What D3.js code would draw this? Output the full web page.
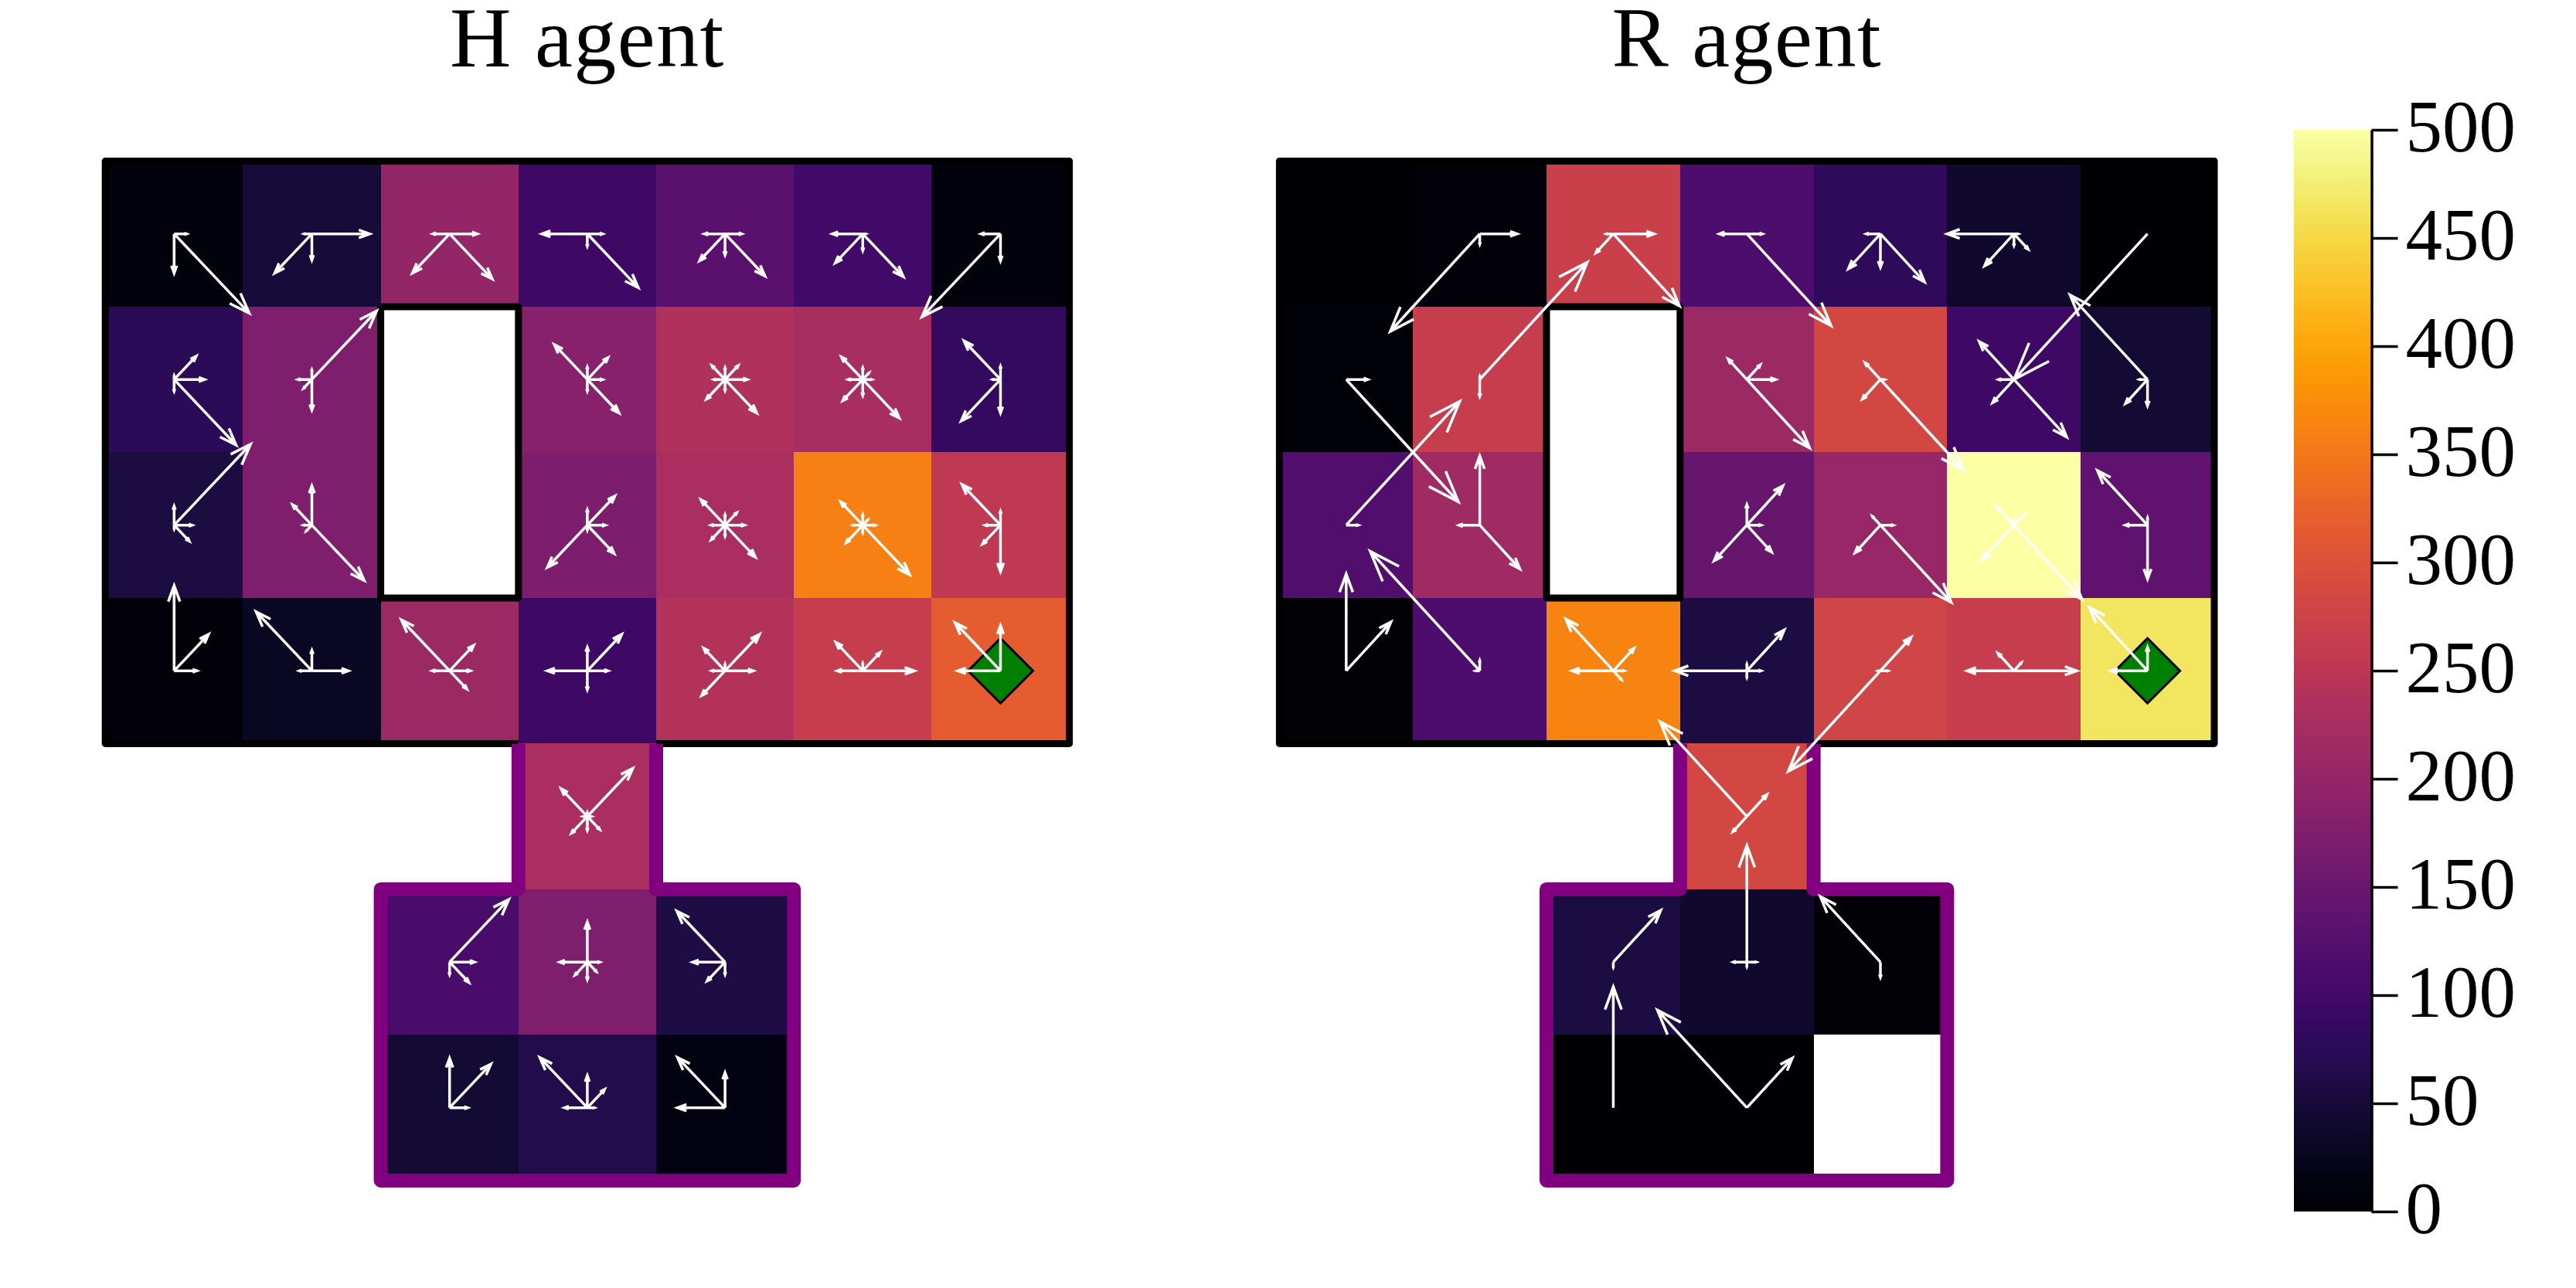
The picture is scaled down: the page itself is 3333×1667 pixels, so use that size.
<!DOCTYPE html>
<meta charset="utf-8">

<head>
  <title>H agent / R agent</title>
</head>

<style>
  body { margin: 0; background: #fff; }
  text { font-family: "Liberation Serif", serif; fill: #000; }
</style>

<body>
  <svg id="chart" width="3333" height="1667"></svg>

  <script src="https://cdnjs.cloudflare.com/ajax/libs/d3/7.8.5/d3.min.js"></script>

  <script>
    // state values, one list per grid row (null = no cell drawn)
    var hValues = [
      [10, 50, 200, 95, 130, 100, 10],
      [75, 175, null, 185, 235, 225, 85],
      [55, 175, null, 170, 230, 360, 255],
      [8, 30, 210, 95, 240, 265, 315],
      [null, null, null, 230, null, null, null],
      [null, null, 110, 175, 60, null, null],
      [null, null, 45, 65, 15, null, null]
    ];
    var rValues = [
      [2, 8, 270, 115, 80, 40, 2],
      [7, 265, null, 210, 285, 95, 45],
      [120, 215, null, 145, 205, 500, 135],
      [5, 115, 365, 55, 280, 265, 465],
      [null, null, null, 285, null, null, null],
      [null, null, 55, 40, 5, null, null],
      [null, null, 2, 2, null, null, null]
    ];

    // action order of the arrow tables below, as grid steps
    var actions = [[1, 0], [-1, 0], [0, -1], [0, 1], [1, -1], [-1, -1], [1, 1], [-1, 1]];

    // row, col, then E W N S NE NW SE SW
    var hArrows = [
      [0, 0, .09, 0, 0, .27, 0, 0, .545, 0],
      [0, 1, .42, .055, 0, .18, 0, 0, 0, .27],
      [0, 2, .2, .12, 0, 0, 0, 0, .31, .27],
      [0, 3, .11, .33, 0, .085, 0, 0, .37, 0],
      [0, 4, .12, .15, 0, .145, 0, 0, .29, .185],
      [0, 5, .02, .22, 0, .115, 0, 0, .295, .2],
      [0, 6, 0, .14, 0, .185, 0, 0, 0, .57],
      [1, 0, .22, 0, .025, .08, .16, 0, .45, 0],
      [1, 1, 0, .1, .065, .21, .47, 0, 0, .06],
      [1, 3, .11, 0, .085, .08, .15, .24, .23, 0],
      [1, 4, .16, .08, .08, .075, .095, .095, .23, .135],
      [1, 5, .065, .105, .08, .11, .045, .155, .265, .145],
      [1, 6, 0, .055, .09, .23, 0, .265, 0, .285],
      [2, 0, .13, 0, .13, .025, .555, 0, .11, 0],
      [2, 1, 0, .06, .27, 0, 0, .14, .38, .04],
      [2, 3, .13, 0, .105, .035, .2, 0, .195, .29],
      [2, 4, .14, .1, .07, .075, .085, .175, .22, .1],
      [2, 5, .09, .07, .07, .05, .035, .16, .34, .12],
      [2, 6, 0, .11, .095, .32, 0, .28, 0, .13],
      [3, 0, .165, 0, .585, 0, .25, 0, 0, 0],
      [3, 1, .265, .09, .14, 0, 0, .405, 0, 0],
      [3, 2, .15, .125, 0, 0, .175, .35, .125, 0],
      [3, 3, .15, .29, .16, .13, .25, 0, 0, 0],
      [3, 4, .205, .095, .045, 0, .25, .155, 0, .17],
      [3, 5, .375, .185, .05, 0, .125, .195, 0, 0],
      [3, 6, 0, .31, .31, 0, 0, .33, 0, 0],
      [4, 3, .03, .03, .025, .095, .33, .19, .09, .115],
      [5, 2, .18, 0, 0, .085, .43, 0, .14, 0],
      [5, 3, .09, .2, .275, .12, 0, 0, .065, .09],
      [5, 4, 0, .235, 0, .085, 0, .35, 0, .13],
      [6, 2, .13, 0, .34, 0, .3, 0, 0, 0],
      [6, 3, .05, .165, .22, 0, .125, .345, 0, 0],
      [6, 4, 0, .345, .24, 0, 0, .345, 0, 0]
    ];
    var rArrows = [
      [0, 1, .28, 0, 0, .07, 0, 0, 0, .67],
      [0, 2, .305, .05, 0, 0, 0, 0, .495, .13],
      [0, 3, .115, .205, 0, 0, 0, 0, .63, 0],
      [0, 4, 0, .105, 0, .23, 0, 0, .33, .24],
      [0, 5, .03, .5, 0, .08, 0, 0, .105, .22],
      [0, 6, 0, 0, 0, 0, 0, 0, 0, 1],
      [1, 0, .16, 0, 0, 0, 0, 0, .84, 0],
      [1, 1, 0, 0, .02, .115, .805, 0, 0, 0],
      [1, 3, .215, 0, 0, 0, .1, .14, .47, 0],
      [1, 4, .03, 0, 0, 0, 0, .115, .62, .135],
      [1, 5, 0, .115, 0, 0, 0, .26, .395, .16],
      [1, 6, 0, .06, 0, .18, 0, .58, 0, .165],
      [2, 0, .09, 0, 0, 0, .85, 0, 0, 0],
      [2, 1, 0, .155, .475, 0, 0, 0, .3, 0],
      [2, 3, .105, 0, .14, 0, .27, 0, .185, .245],
      [2, 4, .095, 0, 0, 0, 0, .06, .53, .19],
      [2, 5, 0, 0, .03, 0, .08, .13, .51, .24],
      [2, 6, 0, .165, .05, .37, 0, .375, 0, 0],
      [3, 0, 0, 0, .665, 0, .335, 0, 0, 0],
      [3, 1, 0, .03, .07, 0, 0, .82, 0, 0],
      [3, 2, .08, .31, 0, 0, .155, .355, .06, 0],
      [3, 3, .105, .54, .045, .045, .28, 0, 0, 0],
      [3, 4, .055, .015, 0, 0, .23, 0, 0, .69],
      [3, 5, .47, .35, 0, 0, .055, .12, 0, 0],
      [3, 6, 0, .275, .16, 0, 0, .435, 0, 0],
      [4, 3, 0, 0, 0, 0, .15, .65, 0, .105],
      [5, 2, 0, 0, 0, .035, .355, 0, 0, 0],
      [5, 3, .07, .1, .8, .03, 0, 0, 0, 0],
      [5, 4, 0, 0, 0, .105, 0, .45, 0, 0],
      [6, 2, 0, 0, .83, 0, 0, 0, 0, 0],
      [6, 3, 0, 0, 0, 0, .34, .67, 0, 0]
    ];

    var colorTicks = [0, 50, 100, 150, 200, 250, 300, 350, 400, 450, 500];

    var svg = d3.select('#chart');
    var color = d3.scaleSequential(d3.interpolateInferno).domain([0, 500]);
    var y = d3.scaleLinear().domain([0, 7]).range([208.4, 1527.9]);

    drawAgent('H agent', hValues, hArrows, [136.2, 1383.6]);
    drawAgent('R agent', rValues, rArrows, [1655.4, 2865]);
    drawColorbar();

    function drawAgent(title, values, arrows, xRange) {
      var x = d3.scaleLinear().domain([0, 7]).range(xRange);
      var g = svg.append('g');
      var line = d3.line().x(function(d) { return x(d[0]); }).y(function(d) { return y(d[1]); });

      var cells = [];
      values.forEach(function(row, r) {
        row.forEach(function(v, c) {
          if (v !== null) cells.push({ r: r, c: c, v: v });
        });
      });

      g.selectAll('rect')
        .data(cells)
        .enter()
        .append('rect')
        .attr('x', function(d) { return x(d.c); })
        .attr('y', function(d) { return y(d.r); })
        .attr('width', x(1) - x(0))
        .attr('height', y(1) - y(0))
        .attr('shape-rendering', 'crispEdges')
        .style('fill', function(d) { return color(d.v); });

      // walls of the upper room, open where the corridor joins it
      var walls = [
        [[3, 4], [0, 4], [0, 0], [7, 0], [7, 4], [4, 4]],
        [[2, 1], [3, 1], [3, 3], [2, 3], [2, 1]]
      ];
      g.selectAll('path.wall')
        .data(walls)
        .enter()
        .append('path')
        .attr('class', 'wall')
        .attr('d', line)
        .attr('fill', 'none')
        .attr('stroke', '#000')
        .attr('stroke-width', 9)
        .attr('stroke-linejoin', 'round');

      // corridor and lower room outline
      g.append('path')
        .attr('d', line([[3, 4], [3, 5], [2, 5], [2, 7], [5, 7], [5, 5], [4, 5], [4, 4]]))
        .attr('fill', 'none')
        .attr('stroke', '#800080')
        .attr('stroke-width', 18)
        .attr('stroke-linejoin', 'round');

      // goal
      g.append('path')
        .attr('d', d3.symbol().type(d3.symbolSquare).size(3528))
        .attr('transform', 'translate(' + x(6.5) + ',' + y(3.5) + ') rotate(45)')
        .attr('fill', '#008000')
        .attr('stroke', '#000')
        .attr('stroke-width', 3);

      var segs = [];
      arrows.forEach(function(row) {
        actions.forEach(function(a, i) {
          var p = row[i + 2];
          if (p > 0) segs.push({ r: row[0], c: row[1], a: a, p: p });
        });
      });

      g.selectAll('path.arrow')
        .data(segs)
        .enter()
        .append('path')
        .attr('class', 'arrow')
        .attr('d', function(d) {
          var x0 = x(d.c + 0.5), y0 = y(d.r + 0.5);
          var x1 = x(d.c + 0.5 + d.a[0] * d.p), y1 = y(d.r + 0.5 + d.a[1] * d.p);
          var ang = Math.atan2(y1 - y0, x1 - x0);
          var barb = 0.2 * Math.hypot(x1 - x0, y1 - y0);
          var spread = 20 * Math.PI / 180;
          return 'M' + x0 + ',' + y0 + 'L' + x1 + ',' + y1 +
            'M' + (x1 - barb * Math.cos(ang - spread)) + ',' + (y1 - barb * Math.sin(ang - spread)) +
            'L' + x1 + ',' + y1 +
            'L' + (x1 - barb * Math.cos(ang + spread)) + ',' + (y1 - barb * Math.sin(ang + spread));
        })
        .attr('fill', 'none')
        .attr('stroke', '#fff')
        .attr('stroke-width', 3.5);

      svg.append('text')
        .attr('x', x(3.5))
        .attr('y', 86)
        .attr('text-anchor', 'middle')
        .style('font-size', '110px')
        .style('letter-spacing', '1.5px')
        .text(title);
    }

    function drawColorbar() {
      var scale = d3.scaleLinear().domain([0, 500]).range([1568, 168]);

      var grad = svg.append('defs').append('linearGradient')
        .attr('id', 'inferno')
        .attr('x1', 0).attr('y1', 1).attr('x2', 0).attr('y2', 0);
      grad.selectAll('stop')
        .data(d3.range(0, 1.001, 0.02))
        .enter()
        .append('stop')
        .attr('offset', function(d) { return d; })
        .attr('stop-color', function(d) { return d3.interpolateInferno(d); });

      svg.append('rect')
        .attr('x', 2968)
        .attr('y', scale(500))
        .attr('width', 100)
        .attr('height', scale(0) - scale(500))
        .attr('fill', 'url(#inferno)');

      var axis = d3.axisRight(scale)
        .tickValues(colorTicks)
        .tickSize(34)
        .tickPadding(10)
        .tickSizeOuter(0);

      var g = svg.append('g')
        .attr('transform', 'translate(3068.5,0)')
        .call(axis);
      g.selectAll('.domain').attr('stroke', '#000').attr('stroke-width', 3.5);
      g.selectAll('.tick line').attr('stroke', '#000').attr('stroke-width', 3.5);
      g.selectAll('.tick text')
        .attr('dy', '0.29em')
        .style('font-size', '95px')
        .style('font-family', '"Liberation Serif", serif');
    }
  </script>
</body>

</html>
